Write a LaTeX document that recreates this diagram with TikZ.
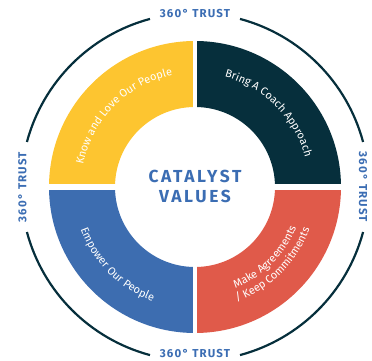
\documentclass[tikz,border=0pt]{standalone}
\usepackage{fontspec}
\setmainfont{Fira Sans}
\usetikzlibrary{decorations.text}

\definecolor{valYellow}{HTML}{FDC530}
\definecolor{valNavy}{HTML}{062F3C}
\definecolor{valRed}{HTML}{E05A4A}
\definecolor{valBlue}{HTML}{3D6DB0}
\definecolor{trustBlue}{HTML}{3B6DB3}

\begin{document}
\begin{tikzpicture}[
    x=1pt, y=1pt,
    trust/.style={font=\fontsize{11.5}{13}\selectfont\bfseries\addfontfeature{LetterSpace=10}, text=trustBlue, inner sep=0pt},
    ring/.style={line width=2.2pt, valNavy},
    gap/.style={white, line width=#1},
    valuetext/.style={decorate, decoration={text along path, text align=center, text color=white,
        text={|\fontsize{11}{13}\selectfont|#1}}}
]
\useasboundingbox (-195,-174) rectangle (177,187);

% Four value segments of the ring (outer radius 146, inner radius 80)
\fill[valYellow] (90:146) arc[start angle=90, end angle=180, radius=146] -- (180:80) arc[start angle=180, end angle=90, radius=80] -- cycle;
\fill[valNavy] (0:146) arc[start angle=0, end angle=90, radius=146] -- (90:80) arc[start angle=90, end angle=0, radius=80] -- cycle;
\fill[valBlue] (180:146) arc[start angle=180, end angle=270, radius=146] -- (270:80) arc[start angle=270, end angle=180, radius=80] -- cycle;
\fill[valRed] (270:146) arc[start angle=270, end angle=360, radius=146] -- (0:80) arc[start angle=0, end angle=-90, radius=80] -- cycle;

% white cuts between the segments
\draw[gap=6.5pt] (-150,0) -- (150,0);
\draw[gap=4pt] (0,-150) -- (0,150);

% Labels along the segments
\path[valuetext={Know and Love Our People}] (195:114) arc[start angle=195, end angle=75, radius=114];
\path[valuetext={Bring A Coach Approach}] (105:114) arc[start angle=105, end angle=-15, radius=114];
\path[valuetext={Empower Our People}] (165:122) arc[start angle=165, end angle=285, radius=122];
\path[valuetext={Make Agreements}] (255:109) arc[start angle=255, end angle=375, radius=109];
\path[valuetext={/ Keep Commitments}] (255:122) arc[start angle=255, end angle=375, radius=122];

% Centre title
\node[font=\fontsize{17.4}{20}\selectfont\bfseries\addfontfeature{LetterSpace=15}, text=trustBlue, align=center] (title) at (0,0.3) {CATALYST\\VALUES};

% Outer trust ring, broken at the four labels
\draw[ring] (15:174) arc[start angle=15, end angle=75, radius=174];
\draw[ring] (105:174) arc[start angle=105, end angle=165, radius=174];
\draw[ring] (195:174) arc[start angle=195, end angle=255, radius=174];
\draw[ring] (285:174) arc[start angle=285, end angle=345, radius=174];

\node[trust] (trustTop) at (0,173) {360° TRUST};
\node[trust] (trustBottom) at (0,-167) {360° TRUST};
\node[trust, rotate=90] (trustLeft) at (-172.5,0) {360° TRUST};
\node[trust, rotate=-90] (trustRight) at (168,0) {360° TRUST};

\end{tikzpicture}
\end{document}
